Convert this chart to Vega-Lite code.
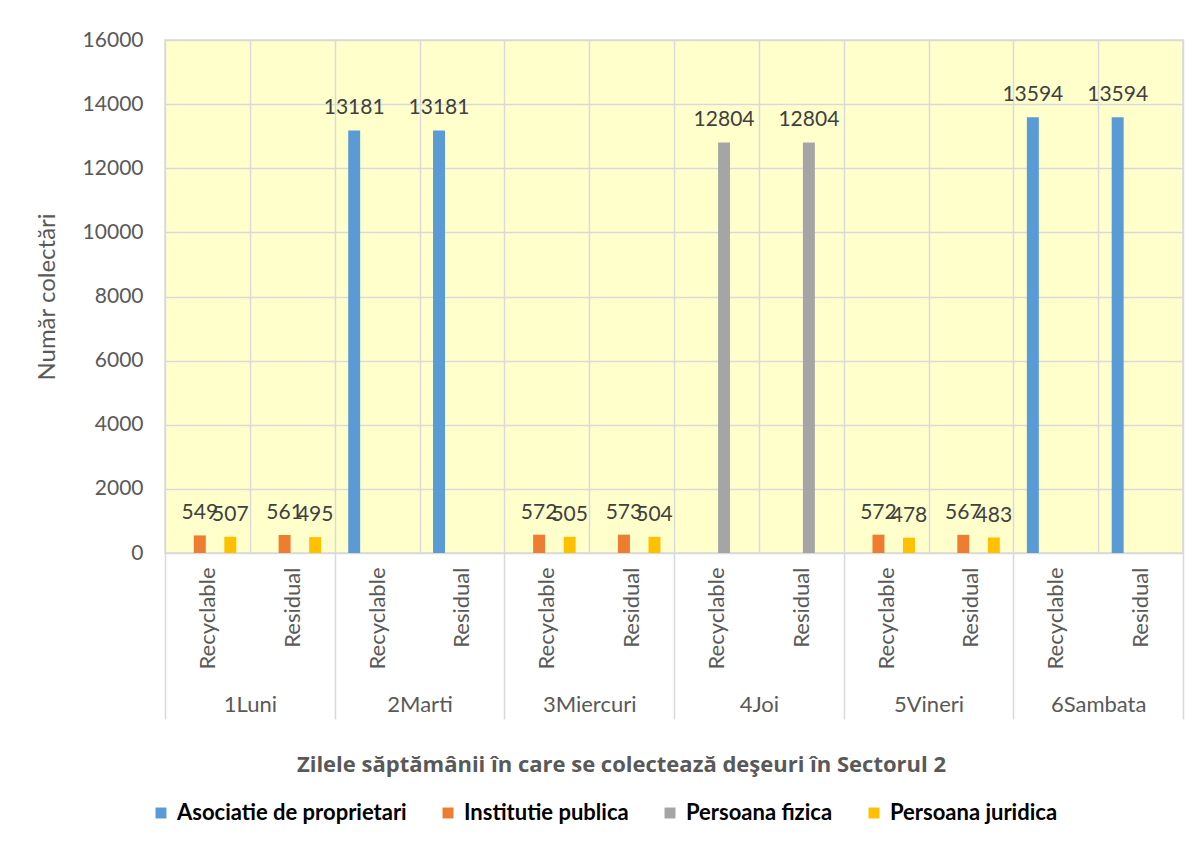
{
  "$schema": "https://vega.github.io/schema/vega-lite/v6.json",
  "width": 1018,
  "height": 513,
  "autosize": {"type": "none"},
  "padding": {"left": 165, "top": 40, "right": 15, "bottom": 291},
  "background": "white",
  "config": {
    "font": "Lato",
    "view": {"fill": "#FFFFCC", "stroke": "#D9D9D9", "strokeWidth": 1.5}
  },
  "datasets": {
    "main": [
      {"slot": "1Luni|Recyclable", "day": "1Luni", "series": "Institutie publica", "value": 549},
      {"slot": "1Luni|Recyclable", "day": "1Luni", "series": "Persoana juridica", "value": 507},
      {"slot": "1Luni|Residual", "day": "1Luni", "series": "Institutie publica", "value": 561},
      {"slot": "1Luni|Residual", "day": "1Luni", "series": "Persoana juridica", "value": 495},
      {"slot": "2Marti|Recyclable", "day": "2Marti", "series": "Asociatie de proprietari", "value": 13181},
      {"slot": "2Marti|Residual", "day": "2Marti", "series": "Asociatie de proprietari", "value": 13181},
      {"slot": "3Miercuri|Recyclable", "day": "3Miercuri", "series": "Institutie publica", "value": 572},
      {"slot": "3Miercuri|Recyclable", "day": "3Miercuri", "series": "Persoana juridica", "value": 505},
      {"slot": "3Miercuri|Residual", "day": "3Miercuri", "series": "Institutie publica", "value": 573},
      {"slot": "3Miercuri|Residual", "day": "3Miercuri", "series": "Persoana juridica", "value": 504},
      {"slot": "4Joi|Recyclable", "day": "4Joi", "series": "Persoana fizica", "value": 12804},
      {"slot": "4Joi|Residual", "day": "4Joi", "series": "Persoana fizica", "value": 12804},
      {"slot": "5Vineri|Recyclable", "day": "5Vineri", "series": "Institutie publica", "value": 572},
      {"slot": "5Vineri|Recyclable", "day": "5Vineri", "series": "Persoana juridica", "value": 478},
      {"slot": "5Vineri|Residual", "day": "5Vineri", "series": "Institutie publica", "value": 567},
      {"slot": "5Vineri|Residual", "day": "5Vineri", "series": "Persoana juridica", "value": 483},
      {"slot": "6Sambata|Recyclable", "day": "6Sambata", "series": "Asociatie de proprietari", "value": 13594},
      {"slot": "6Sambata|Residual", "day": "6Sambata", "series": "Asociatie de proprietari", "value": 13594}
    ],
    "days": [
      {"day": "1Luni"}, {"day": "2Marti"}, {"day": "3Miercuri"}, {"day": "4Joi"}, {"day": "5Vineri"}, {"day": "6Sambata"}
    ]
  },
  "layer": [
    {
      "data": {"name": "main"},
      "layer": [
        {
          "mark": {"type": "bar"},
          "encoding": {
            "x": {
              "field": "slot", "type": "nominal",
              "sort": ["1Luni|Recyclable","1Luni|Residual","2Marti|Recyclable","2Marti|Residual","3Miercuri|Recyclable","3Miercuri|Residual","4Joi|Recyclable","4Joi|Residual","5Vineri|Recyclable","5Vineri|Residual","6Sambata|Recyclable","6Sambata|Residual"],
              "scale": {"paddingInner": 0, "paddingOuter": 0},
              "axis": {
                "orient": "bottom",
                "title": null,
                "labelExpr": "split(datum.value, '|')[1]",
                "labelAngle": -90,
                "labelAlign": "right",
                "labelBaseline": "middle",
                "labelFontSize": 22,
                "labelColor": "#595959",
                "labelPadding": 14,
                "ticks": false,
                "domain": false,
                "grid": true,
                "tickBand": "extent",
                "gridColor": "#D9D9D9",
                "gridWidth": 1.5
              }
            },
            "xOffset": {
              "field": "series", "type": "nominal",
              "scale": {"domain": ["Asociatie de proprietari","Institutie publica","Persoana fizica","Persoana juridica"], "paddingInner": 0.216, "paddingOuter": 0.886}
            },
            "y": {
              "field": "value", "type": "quantitative",
              "scale": {"domain": [0, 16000], "nice": false},
              "axis": {
                "title": "Număr colectări",
                "titleFontSize": 24,
                "titleFontWeight": "normal",
                "titleColor": "#595959",
                "titlePadding": 23,
                "values": [0,2000,4000,6000,8000,10000,12000,14000,16000],
                "format": "d",
                "labelFontSize": 21,
                "labelColor": "#595959",
                "labelPadding": 22,
                "ticks": false,
                "domain": false,
                "gridColor": "#D9D9D9",
                "gridWidth": 1.5
              }
            },
            "color": {
              "field": "series", "type": "nominal",
              "scale": {"domain": ["Asociatie de proprietari","Institutie publica","Persoana fizica","Persoana juridica"], "range": ["#5B9BD5","#ED7D31","#A5A5A5","#FFC000"]},
              "legend": {
                "orient": "none",
                "direction": "horizontal",
                "legendX": -15,
                "legendY": 762,
                "title": null,
                "symbolType": "square",
                "symbolSize": 120,
                "symbolStrokeWidth": 0,
                "labelFont": "Lato",
                "labelFontSize": 22,
                "labelFontWeight": "bold",
                "labelColor": "#000000",
                "labelLimit": 400,
                "columnPadding": 30,
                "labelOffset": 5
              }
            }
          }
        },
        {
          "mark": {"type": "text", "baseline": "alphabetic", "dy": -16, "fontSize": 21, "color": "#404040"},
          "encoding": {
            "x": {
              "field": "slot", "type": "nominal",
              "sort": ["1Luni|Recyclable","1Luni|Residual","2Marti|Recyclable","2Marti|Residual","3Miercuri|Recyclable","3Miercuri|Residual","4Joi|Recyclable","4Joi|Residual","5Vineri|Recyclable","5Vineri|Residual","6Sambata|Recyclable","6Sambata|Residual"]
            },
            "xOffset": {"field": "series", "type": "nominal"},
            "y": {"field": "value", "type": "quantitative"},
            "text": {"field": "value", "type": "quantitative"}
          }
        }
      ]
    },
    {
      "data": {"name": "days"},
      "mark": {"type": "text", "text": ""},
      "encoding": {
        "x": {
          "field": "day", "type": "nominal", "sort": null,
          "scale": {"paddingInner": 0, "paddingOuter": 0},
          "axis": {
            "orient": "bottom",
            "title": "Zilele săptămânii în care se colectează deşeuri în Sectorul 2",
            "titleFont": "Open Sans",
            "titleFontSize": 22,
            "titleFontWeight": "bold",
            "titleColor": "#595959",
            "titleX": 456,
            "titleAlign": "center",
            "titlePadding": 35,
            "labelAngle": 0,
            "labelFontSize": 22,
            "labelColor": "#595959",
            "labelBaseline": "top",
            "labelPadding": -25,
            "tickBand": "extent",
            "tickSize": 166,
            "tickColor": "#D9D9D9",
            "tickWidth": 1.5,
            "domain": false,
            "grid": false
          }
        }
      }
    }
  ],
  "resolve": {"scale": {"x": "independent", "xOffset": "independent"}}
}
